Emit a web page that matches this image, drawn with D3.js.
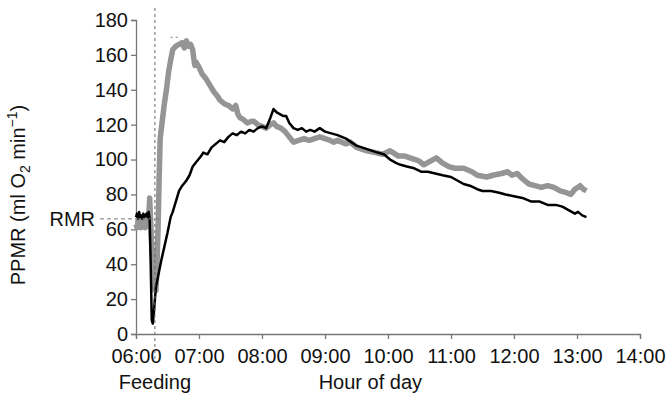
<!DOCTYPE html>
<html lang="en">
<head>
    <meta charset="UTF-8">
    <title>PPMR after feeding</title>
    <script src="https://d3js.org/d3.v7.min.js"></script>
    <style>
        body { margin: 0; background: #fff; }
        text { font-family: "Liberation Sans", Arial, sans-serif; fill: #111; }
    </style>
</head>
<body>
    <script>
        // Minutes after 06:00 and PPMR values (ml O2 min-1)
        const blackMinutes = [0, 1, 2, 3, 4, 5, 6, 7, 8, 9, 10, 11, 12, 13, 14, 15, 16, 17, 18, 19, 21, 24, 27, 30, 33, 35, 38, 41, 44, 48, 51, 54, 58, 62, 64, 68, 72, 76, 80, 84, 88, 92, 96, 100, 104, 108, 112, 116, 120, 124, 128, 131, 134, 137, 140, 143, 146, 150, 154, 158, 162, 166, 170, 175, 180, 186, 192, 200, 205, 210, 220, 230, 236, 242, 248, 252, 258, 265, 272, 278, 285, 292, 300, 306, 312, 318, 325, 330, 338, 346, 352, 360, 368, 376, 384, 392, 400, 406, 412, 418, 421, 425, 429];
        const blackValues = [67, 69, 66, 70, 67, 68, 66, 69, 67, 68, 69, 67, 70, 66, 40, 8, 6, 12, 20, 27, 33, 42, 50, 58, 67, 70, 76, 82, 85, 88, 91, 96, 99, 102, 104, 103, 107, 109, 111, 110, 113, 115, 114, 116, 115, 117, 116, 118, 119, 118, 124, 129, 127, 126, 125, 125, 121, 118, 117, 118, 116, 117, 116, 118, 116, 115, 114, 112, 110, 108, 106, 104, 103, 100, 98, 97, 96, 95, 93, 93, 92, 91, 90, 88, 86, 85, 83, 82, 82, 81, 80, 79, 78, 76, 76, 74, 74, 73, 71, 69, 70, 68, 67];

        const greyMinutes = [0, 1, 2, 3, 4, 5, 6, 7, 8, 9, 10, 11, 12, 13, 14, 15, 17, 18, 19, 20, 21, 22, 23, 25, 27, 29, 31, 33, 35, 38, 41, 44, 46, 48, 50, 52, 54, 55, 56, 57, 60, 63, 67, 70, 74, 78, 80, 84, 88, 92, 95, 97, 99, 102, 106, 110, 112, 116, 120, 124, 128, 131, 134, 138, 142, 146, 150, 155, 160, 165, 170, 175, 180, 185, 188, 192, 196, 200, 204, 210, 220, 228, 235, 242, 250, 256, 261, 266, 270, 274, 280, 286, 292, 298, 304, 312, 320, 325, 334, 340, 348, 354, 358, 363, 368, 374, 380, 386, 392, 398, 404, 410, 414, 418, 423, 426, 429];
        const greyValues = [63, 61, 65, 62, 64, 61, 65, 62, 64, 61, 65, 62, 64, 78, 64, 50, 30, 25, 25, 40, 60, 88, 112, 122, 132, 140, 150, 157, 163, 165, 166, 167, 164, 168, 165, 166, 163, 158, 154, 156, 153, 149, 146, 143, 139, 136, 134, 132, 131, 129, 131, 126, 124, 123, 121, 122, 122, 120, 119, 118, 120, 121, 119, 118, 116, 113, 110, 111, 112, 111, 112, 113, 112, 111, 110, 111, 110, 109, 110, 107, 105, 104, 103, 105, 102, 102, 101, 100, 99, 97, 99, 101, 98, 96, 95, 95, 93, 91, 90, 91, 92, 93, 91, 92, 89, 86, 85, 84, 85, 84, 82, 81, 80, 83, 85, 83, 82];

        const xTicks = ["06:00", "07:00", "08:00", "09:00", "10:00", "11:00", "12:00", "13:00", "14:00"];
        const yTicks = [0, 20, 40, 60, 80, 100, 120, 140, 160, 180];
        const feedingMinute = 18;
        const rmrValue = 66;
        const peakMark = { from: 33, to: 40, value: 170 };

        const W = 668, H = 393;
        const margin = { top: 20, right: 28, bottom: 59, left: 136 };
        const width = W - margin.left - margin.right;
        const height = H - margin.top - margin.bottom;

        const parse = d3.timeParse("%H:%M");
        const start = parse("06:00");
        const at = m => new Date(start.getTime() + m * 60000);

        const svg = d3.select("body").append("svg")
            .attr("width", W)
            .attr("height", H);
        const g = svg.append("g")
            .attr("transform", `translate(${margin.left},${margin.top})`);

        const x = d3.scaleTime()
            .domain([parse(xTicks[0]), parse(xTicks[xTicks.length - 1])])
            .range([0, width]);
        const y = d3.scaleLinear()
            .domain([0, 180])
            .range([height, 0]);

        // Axes
        const xAxis = g.append("g")
            .attr("transform", `translate(0,${height})`)
            .call(d3.axisBottom(x)
                .tickValues(xTicks.map(parse))
                .tickFormat(d3.timeFormat("%H:%M"))
                .tickSizeOuter(0)
                .tickSize(5));
        const yAxis = g.append("g")
            .call(d3.axisLeft(y)
                .tickValues(yTicks)
                .tickSizeOuter(0)
                .tickSize(5));
        [xAxis, yAxis].forEach(a => {
            a.select(".domain").attr("stroke", "#777").attr("stroke-width", 1.3);
            a.selectAll(".tick line").attr("stroke", "#777").attr("stroke-width", 1.3);
            a.selectAll(".tick text").style("font-size", "20px").attr("fill", "#111");
        });
        xAxis.selectAll(".tick text").attr("dy", "1.05em");
        yAxis.selectAll(".tick text").attr("x", -8);

        // Lines
        const line = d3.line()
            .x(d => x(at(d[0])))
            .y(d => y(d[1]));

        g.append("path")
            .datum(d3.zip(greyMinutes, greyValues))
            .attr("fill", "none")
            .attr("stroke", "#959595")
            .attr("stroke-width", 5.5)
            .attr("stroke-linejoin", "round")
            .attr("d", line);

        g.append("path")
            .datum(d3.zip(blackMinutes, blackValues))
            .attr("fill", "none")
            .attr("stroke", "#000")
            .attr("stroke-width", 2.5)
            .attr("stroke-linejoin", "round")
            .attr("d", line);

        // Feeding marker
        g.append("line")
            .attr("x1", x(at(feedingMinute)))
            .attr("x2", x(at(feedingMinute)))
            .attr("y1", -12)
            .attr("y2", height + 28)
            .attr("stroke", "#666")
            .attr("stroke-width", 1)
            .attr("stroke-dasharray", "3,3");

        // RMR line
        g.append("line")
            .attr("x1", -36)
            .attr("x2", x(at(22)))
            .attr("y1", y(rmrValue))
            .attr("y2", y(rmrValue))
            .attr("stroke", "#777")
            .attr("stroke-width", 1)
            .attr("stroke-dasharray", "4,3");

        // small dashed mark at the peak
        g.append("line")
            .attr("x1", x(at(peakMark.from)))
            .attr("x2", x(at(peakMark.to)))
            .attr("y1", y(peakMark.value))
            .attr("y2", y(peakMark.value))
            .attr("stroke", "#999")
            .attr("stroke-width", 1.2)
            .attr("stroke-dasharray", "2,3");

        // Labels
        g.append("text")
            .attr("x", -41)
            .attr("y", y(rmrValue))
            .attr("dy", "0.35em")
            .attr("text-anchor", "end")
            .style("font-size", "20px")
            .text("RMR");

        g.append("text")
            .attr("x", x(at(feedingMinute)))
            .attr("y", height + 55)
            .attr("text-anchor", "middle")
            .style("font-size", "20px")
            .text("Feeding");

        g.append("text")
            .attr("x", width * 0.465)
            .attr("y", height + 55)
            .attr("text-anchor", "middle")
            .style("font-size", "20px")
            .text("Hour of day");

        const yl = svg.append("text")
            .attr("transform", `translate(25,${margin.top + height / 2 + 18}) rotate(-90)`)
            .attr("text-anchor", "middle")
            .style("font-size", "20px");
        yl.append("tspan").text("PPMR (ml O");
        yl.append("tspan").attr("dy", 5).style("font-size", "14px").text("2");
        yl.append("tspan").attr("dy", -5).text(" min");
        yl.append("tspan").attr("dy", -8).style("font-size", "14px").text("\u22121");
        yl.append("tspan").attr("dy", 8).text(")");
    </script>
</body>
</html>
